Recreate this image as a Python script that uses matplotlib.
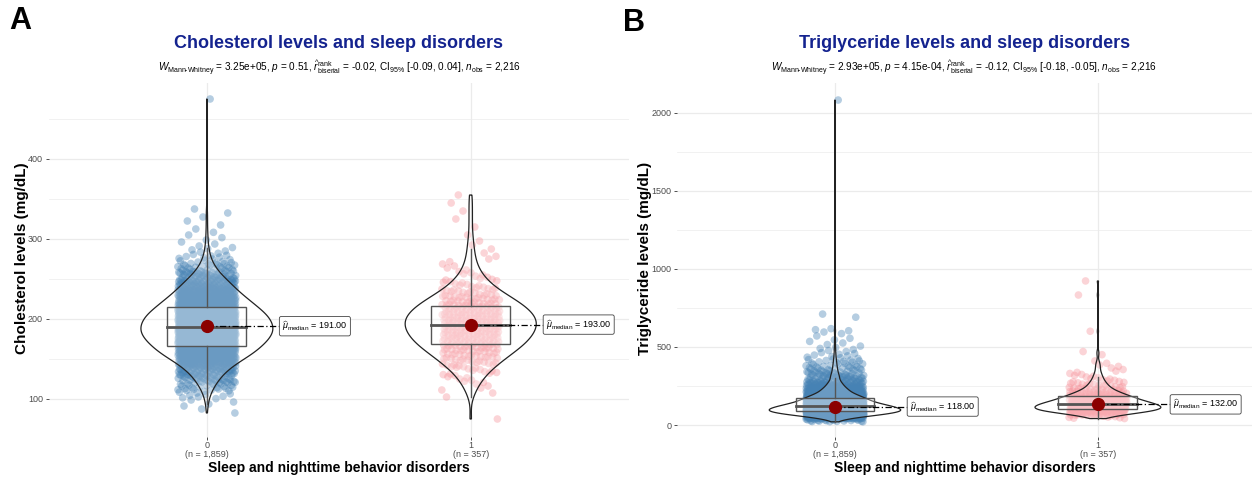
import numpy as np
import matplotlib
matplotlib.use('Agg')
import matplotlib.pyplot as plt
from matplotlib.patches import Rectangle, Polygon

plt.rcParams['font.family'] = ['Liberation Sans', 'DejaVu Sans']
plt.rcParams['mathtext.fontset'] = 'custom'
plt.rcParams['mathtext.rm'] = 'Liberation Sans'
plt.rcParams['mathtext.it'] = 'Liberation Sans:italic'
plt.rcParams['mathtext.bf'] = 'Liberation Sans:bold'

# groups on the x axis
groups = ['0', '1']
group_n = ['1,859', '357']

# cholesterol (mg/dL): point counts per 10 mg/dL bin
chol_start = [80, 100]
chol_width = 10
chol_counts_0 = [2, 4, 10, 22, 38, 60, 92, 135, 165, 190, 205, 200, 185, 155,
                 125, 95, 72, 45, 25, 13, 7, 4, 3, 2, 2, 2]
chol_counts_1 = [2, 4, 7, 11, 17, 23, 30, 35, 38, 40, 38, 33, 26, 17, 11, 7,
                 4, 3, 2, 2, 1, 1, 1, 1, 1, 1]
chol_extra_0 = [475]
chol_extra_1 = [75]
chol_medians = [191.00, 193.00]

# triglycerides (mg/dL): point counts per 20 mg/dL bin
trig_start = [20, 40]
trig_width = 20
trig_counts_0 = [22, 105, 230, 300, 275, 215, 160, 135, 100, 70, 55, 40, 30,
                 20, 20, 15, 12, 10, 8, 7, 5, 4, 3, 3, 2, 2, 2, 1, 2, 3, 0, 0,
                 0, 1, 1]
trig_counts_1 = [8, 25, 50, 56, 51, 40, 32, 25, 18, 12, 9, 7, 5, 4, 3, 2, 2,
                 2, 1, 0, 1, 1]
trig_extra_0 = [2080]
trig_extra_1 = [600, 832, 922]
trig_medians = [118.00, 132.00]

chol_sub = (r'$W_{\text{Mann-Whitney}}$ = 3.25e+05, $p$ = 0.51, '
            r'$\widehat{r}_{\mathrm{biserial}}^{\mathrm{rank}}$ = -0.02, '
            r'CI$_{95\%}$ [-0.09, 0.04], $n_{\mathrm{obs}}$ = 2,216')
trig_sub = (r'$W_{\text{Mann-Whitney}}$ = 2.93e+05, $p$ = 4.15e-04, '
            r'$\widehat{r}_{\mathrm{biserial}}^{\mathrm{rank}}$ = -0.12, '
            r'CI$_{95\%}$ [-0.18, -0.05], $n_{\mathrm{obs}}$ = 2,216')

colors = ['#4682B4', '#F7949C']
W, H = 1252, 479


def expand(start, width, counts, extra):
    vals = []
    for i, c in enumerate(counts):
        if c:
            vals.extend(start + i * width + (np.arange(c) + 0.5) / c * width)
    return np.sort(np.r_[vals, extra])


def spread(n):
    # even, non-repeating horizontal jitter (R2 sequence, paired by rank)
    j = np.arange(n)
    u = (0.5 + j * 0.7548776662) % 1
    w = (0.5 + j * 0.5698402910) % 1
    return (u[np.argsort(w)] - 0.5) * 0.22


def kde(v):
    n = len(v)
    q1, q3 = np.percentile(v, [25, 75])
    bw = 0.9 * min(v.std(ddof=1), (q3 - q1) / 1.34) * n ** -0.2
    g = np.linspace(v.min(), v.max(), 512)
    d = np.exp(-0.5 * ((g[:, None] - v[None, :]) / bw) ** 2).sum(1)
    return g, d / (n * bw * np.sqrt(2 * np.pi))


def panel(ax, data, medians, ylim, yticks, yminor, xmax):
    dens = [kde(v) for v in data]
    dmax = max(d.max() for _, d in dens)
    for i, v in enumerate(data):
        x = i + 1
        ax.scatter(x + spread(len(v)), v, s=30, color=colors[i], alpha=0.4,
                   edgecolors='none', zorder=2)
        g, d = dens[i]
        hw = 0.25 * d / dmax
        poly = np.r_[np.c_[x - hw, g], np.c_[x + hw, g][::-1]]
        ax.add_patch(Polygon(poly, closed=True, facecolor='white', alpha=0.2,
                             edgecolor='none', zorder=3))
        ax.add_patch(Polygon(poly, closed=True, facecolor='none',
                             edgecolor='#222222', lw=0.9, zorder=4))
        q1, med, q3 = np.percentile(v, [25, 50, 75])
        iqr = q3 - q1
        lo = v[v >= q1 - 1.5 * iqr].min()
        hi = v[v <= q3 + 1.5 * iqr].max()
        ax.add_patch(Rectangle((x - 0.15, q1), 0.3, q3 - q1, facecolor='white',
                               alpha=0.3, edgecolor='none', zorder=4))
        ax.add_patch(Rectangle((x - 0.15, q1), 0.3, q3 - q1, facecolor='none',
                               edgecolor='#555555', lw=1, zorder=5))
        ax.plot([x, x], [q3, hi], color='#555555', lw=1, zorder=5)
        ax.plot([x, x], [lo, q1], color='#555555', lw=1, zorder=5)
        ax.plot([x - 0.15, x + 0.15], [med, med], color='#555555', lw=2,
                zorder=5)
        m = medians[i]
        ax.plot([x, x + 0.285], [m, m], color='black', lw=0.9,
                ls=(0, (5, 2, 1, 2)), zorder=6)
        ax.plot(x, m, 'o', color='#8B0000', ms=8.5, zorder=7)
        ax.text(x + 0.285, m, r'$\widehat{\mu}_{\mathrm{median}}$ = %.2f' % m,
                fontsize=6.5, ha='left', va='center', zorder=8,
                bbox=dict(boxstyle='round,pad=0.3,rounding_size=0.2',
                          fc='white', ec='#444444', lw=0.6))
    ax.set_xlim(0.4, xmax)
    ax.set_ylim(*ylim)
    ax.set_xticks([1, 2])
    ax.set_xticklabels(['%s\n(n = %s)' % (g, n) for g, n in zip(groups, group_n)],
                       fontsize=6.5, color='#4D4D4D', linespacing=1.0)
    ax.set_yticks(yticks)
    ax.set_yticklabels([str(t) for t in yticks], fontsize=6.5, color='#4D4D4D')
    ax.set_yticks(yminor, minor=True)
    ax.tick_params(which='major', length=2.5, width=0.6, color='#333333', pad=1.5)
    ax.tick_params(axis='x', which='major', pad=0.5)
    ax.tick_params(which='minor', length=0)
    ax.grid(which='major', axis='both', color='#EBEBEB', lw=0.9, zorder=0)
    ax.grid(which='minor', axis='y', color='#EBEBEB', lw=0.5, zorder=0)
    ax.set_axisbelow(True)
    for s in ax.spines.values():
        s.set_visible(False)


fig = plt.figure(figsize=(W / 100, H / 100), dpi=100)
ax_a = fig.add_axes([48.6 / W, 42 / H, 580.4 / W, 354 / H])
ax_b = fig.add_axes([677.2 / W, 42 / H, 574.8 / W, 354 / H])

chol = [expand(chol_start[0], chol_width, chol_counts_0, chol_extra_0),
        expand(chol_start[1], chol_width, chol_counts_1, chol_extra_1)]
trig = [expand(trig_start[0], trig_width, trig_counts_0, trig_extra_0),
        expand(trig_start[1], trig_width, trig_counts_1, trig_extra_1)]

panel(ax_a, chol, chol_medians, (52.5, 495), [100, 200, 300, 400],
      [150, 250, 350, 450], 2.6)
panel(ax_b, trig, trig_medians, (-76.8, 2189), [0, 500, 1000, 1500, 2000],
      [250, 750, 1250, 1750], 2.586)

navy = '#14238F'
for cx, title, sub in [(339, 'Cholesterol levels and sleep disorders', chol_sub),
                       (964.5, 'Triglyceride levels and sleep disorders', trig_sub)]:
    fig.text(cx / W, 1 - 44 / H, title, fontsize=13, fontweight='bold',
             color=navy, ha='center', va='center')
    fig.text(cx / W, 1 - 68 / H, sub, fontsize=7.2, ha='center', va='center')
    fig.text(cx / W, 1 - 468 / H, 'Sleep and nighttime behavior disorders',
             fontsize=10, fontweight='bold', ha='center', va='center')

fig.text(22 / W, 1 - 258 / H, 'Cholesterol levels (mg/dL)', fontsize=11,
         fontweight='bold', rotation=90, ha='center', va='center')
fig.text(645 / W, 1 - 258 / H, 'Triglyceride levels (mg/dL)', fontsize=11,
         fontweight='bold', rotation=90, ha='center', va='center')

fig.text(20 / W, 1 - 21 / H, 'A', fontsize=22, fontweight='bold',
         ha='center', va='center')
fig.text(634 / W, 1 - 23 / H, 'B', fontsize=22, fontweight='bold',
         ha='center', va='center')

fig.savefig('out.png', dpi=100)
